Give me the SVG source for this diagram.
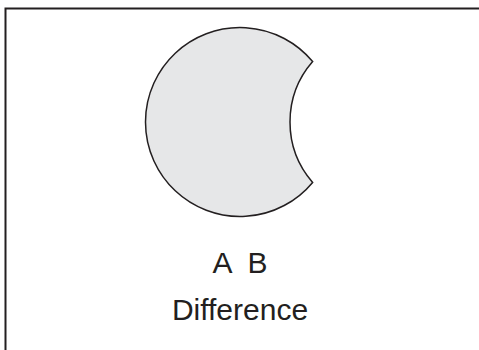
<svg xmlns="http://www.w3.org/2000/svg" width="479" height="350" viewBox="0 0 479 350">
<style>
.lbl{font-family:"Liberation Sans",Arial,sans-serif;font-size:30px;fill:#231f20;text-anchor:middle}
</style>
<rect x="0" y="0" width="479" height="350" fill="#ffffff"/>
<polyline points="5.5,350 5.5,8.5 479,8.5" fill="none" stroke="#231f20" stroke-width="2"/>
<g id="difference">
<path d="M 312.64 61.56 A 94.5 94.5 0 1 0 312.64 182.44 A 92 92 0 0 1 312.64 61.56 Z" fill="#e6e7e8" stroke="#231f20" stroke-width="1.5" stroke-linejoin="miter"/>
</g>
<g id="labels">
<text class="lbl" x="240" y="273" xml:space="preserve">A  B</text>
<text class="lbl" x="240" y="320">Difference</text>
</g>
</svg>
